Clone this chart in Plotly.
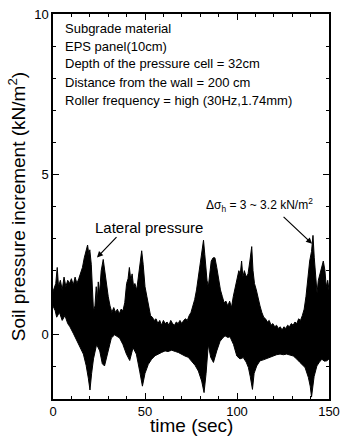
import plotly.graph_objects as go

# Upper envelope of the vibration record (time s, kN/m2)
t_up = [0, 1.5, 2.3, 3, 4, 5, 6, 7, 8, 9, 10, 11, 12, 13, 14, 15, 16, 17, 18, 18.8, 19.5, 20, 20.8,
        21.5, 22, 22.8, 23.5, 24, 24.6, 25.3, 26.2, 27.3, 28, 29, 30, 31, 32, 33, 34, 35, 36, 37, 38,
        39, 40, 40.8, 41.5, 42.3, 43, 43.8, 44.5, 45.5, 46.5, 47.5, 48.2, 49, 50, 51, 52, 53, 54, 55,
        56, 57, 58, 59, 60, 61, 62, 63, 64, 65, 66, 67, 68, 69, 70, 71, 72, 73, 74, 75, 76, 77, 78,
        79, 80, 81, 81.8, 82.5, 83, 83.7, 84.4, 85, 86, 87, 88, 89, 90, 91, 92, 93, 94, 95, 96, 97,
        98, 99, 100, 101, 101.8, 102.5, 103.2, 104, 105, 106, 107, 108, 108.7, 109.5, 110.5, 111.5,
        112.5, 113.5, 114.5, 115.5, 116.5, 117.5, 118.5, 119.5, 120.5, 121.5, 122.5, 123.5, 124.5,
        125.5, 126.5, 127.5, 128.5, 129.5, 130.5, 131.5, 132.5, 133.5, 134.5, 135.5, 136.5, 137.5,
        138.5, 139.5, 140.5, 141.3, 142, 142.8, 143.5, 144.2, 145, 146, 146.9, 147.8, 148.5, 149.3, 150]
v_up = [1.35, 1.6, 2.1, 1.5, 1.7, 1.4, 1.8, 1.5, 1.7, 1.6, 1.75, 1.55, 1.8, 1.6, 1.75, 1.9, 2.1, 2.4,
        2.6, 2.8, 2.5, 2.65, 2.2, 1.2, 0.75, 0.9, 1.5, 1.0, 1.65, 1.3, 2.0, 2.35, 2.0, 1.6, 1.2, 0.9,
        0.7, 0.85, 0.7, 0.8, 0.65, 0.8, 0.75, 1.0, 1.6, 1.75, 2.1, 1.7, 1.9, 1.5, 1.6, 1.4, 1.9, 2.4,
        2.62, 2.2, 1.5, 1.2, 0.9, 0.6, 0.55, 0.45, 0.5, 0.35, 0.45, 0.3, 0.45, 0.35, 0.4, 0.3, 0.45,
        0.35, 0.3, 0.4, 0.35, 0.45, 0.35, 0.45, 0.5, 0.45, 0.6, 0.7, 0.9, 1.1, 1.4, 1.8, 2.1, 2.5,
        2.95, 2.5, 2.1, 1.7, 1.5, 1.9, 2.3, 2.4, 2.4, 2.1, 1.7, 1.4, 1.2, 1.0, 1.05, 0.9, 1.05, 0.85,
        1.2, 1.5, 1.8, 2.0, 1.9, 2.3, 1.8, 2.0, 1.8, 1.9, 2.3, 2.75, 2.0, 1.6, 1.4, 1.1, 0.9, 0.7,
        0.55, 0.5, 0.4, 0.45, 0.3, 0.35, 0.25, 0.3, 0.2, 0.25, 0.15, 0.25, 0.2, 0.3, 0.25, 0.35, 0.3,
        0.4, 0.35, 0.5, 0.45, 0.6, 0.8, 1.2, 1.8, 2.3, 2.6, 3.1, 2.4, 1.9, 1.3, 1.7, 1.9, 2.1, 2.3,
        2.0, 1.5, 1.7, 1.4]

# Lower envelope of the vibration record
t_lo = [0, 1.2, 2, 3.5, 5, 6.5, 8, 9.2, 11, 12.9, 14.5, 16.5, 18, 19.2, 20.1, 21, 22, 22.8, 23.7,
        25.4, 26.8, 28, 29.9, 31.7, 33.5, 36.2, 38, 39.9, 41.7, 43.5, 45.3, 47.1, 48.6, 50, 51.8,
        53.6, 55.5, 57.2, 59, 60.9, 62.5, 64.5, 66.5, 68.1, 70, 71.7, 73.5, 75.4, 77.2, 79, 80.8,
        82.1, 83.2, 84.4, 85.7, 87.2, 89, 90.8, 92.2, 93.5, 95, 96.2, 98.1, 99.9, 101.6, 103.4,
        105, 106.2, 107.2, 108.4, 109.3, 110.7, 112.5, 114.3, 116.1, 118, 119.7, 121.5, 123.4,
        125.2, 127, 128.8, 130.6, 132.4, 134.2, 135.6, 137, 138.8, 139.8, 140.5, 141.9, 143.4,
        144.8, 146.1, 147.5, 148.8, 150]
v_lo = [0.9, 0.75, 0.55, 0.7, 0.45, 0.6, 0.35, 0.25, 0.05, -0.2, -0.35, -0.6, -0.95, -1.35, -1.72,
        -1.2, -0.75, -0.5, -0.3, -0.5, -0.9, -0.97, -0.5, -0.1, 0.0, -0.1, -0.3, -0.6, -0.8, -0.4,
        -0.6, -1.13, -1.6, -1.2, -0.92, -0.76, -0.65, -0.6, -0.55, -0.5, -0.52, -0.48, -0.52, -0.55,
        -0.6, -0.66, -0.7, -0.81, -0.95, -1.13, -1.44, -1.8, -1.2, -0.3, -0.7, -0.86, -0.5, -0.2,
        -0.1, -0.03, -0.08, -0.06, -0.3, -0.66, -0.75, -0.71, -0.85, -1.02, -1.3, -1.7, -1.2, -0.97,
        -0.81, -0.78, -0.76, -0.7, -0.66, -0.62, -0.6, -0.62, -0.6, -0.63, -0.66, -0.75, -0.86,
        -0.95, -1.02, -1.33, -1.6, -1.94, -1.3, -0.97, -0.85, -0.76, -0.82, -0.81, -0.75]

x_ticks = [0, 50, 100, 150]
y_ticks = [0, 5, 10]

info_lines = ["Subgrade material", "EPS panel(10cm)", "Depth of the pressure cell = 32cm",
              "Distance from the wall = 200 cm", "Roller frequency = high (30Hz,1.74mm)"]
info_y = [9.56, 9.0, 8.47, 7.88, 7.31]

FONT = "Liberation Sans, Arial, sans-serif"

fig = go.Figure()
fig.add_trace(go.Scatter(
    x=t_up + t_lo[::-1], y=v_up + v_lo[::-1],
    mode="lines", fill="toself", fillcolor="black",
    line=dict(color="black", width=1), hoverinfo="skip", showlegend=False))

annotations = []
for txt, yy in zip(info_lines, info_y):
    annotations.append(dict(x=5.3, y=yy, xref="x", yref="y", text=txt, showarrow=False,
                            xanchor="left", yanchor="middle", font=dict(size=13, color="black", family=FONT)))
annotations.append(dict(x=52.2, y=3.34, xref="x", yref="y", text="Lateral pressure", showarrow=False,
                        xanchor="center", yanchor="middle", font=dict(size=15, color="black", family=FONT)))
annotations.append(dict(x=23.9, y=2.41, ax=35.3, ay=3.09, xref="x", yref="y", axref="x", ayref="y",
                        text="", showarrow=True, arrowhead=2, arrowsize=1, arrowwidth=1.2, arrowcolor="black"))
annotations.append(dict(x=112, y=4.05, xref="x", yref="y",
                        text="Δσ<sub>h</sub> = 3 ~ 3.2 kN/m<sup>2</sup>", showarrow=False,
                        xanchor="center", yanchor="middle", font=dict(size=12, color="black", family=FONT)))
annotations.append(dict(x=140.8, y=2.84, ax=124.5, ay=3.72, xref="x", yref="y", axref="x", ayref="y",
                        text="", showarrow=True, arrowhead=2, arrowsize=1, arrowwidth=1.2, arrowcolor="black"))
# x-axis title placed as an annotation so it sits exactly where the reference has it
annotations.append(dict(x=0.5, y=-0.068, xref="paper", yref="paper", text="time (sec)", showarrow=False,
                        xanchor="center", yanchor="middle", font=dict(size=19, color="black", family=FONT)))

fig.update_layout(
    width=341, height=446,
    margin=dict(l=53, r=12, t=14, b=47, autoexpand=False),
    paper_bgcolor="white", plot_bgcolor="white",
    font=dict(family=FONT, color="black"),
    annotations=annotations,
    showlegend=False,
)
fig.update_xaxes(
    range=[0, 150], tickvals=x_ticks, ticktext=[str(v) for v in x_ticks],
    ticks="inside", ticklen=6, tickwidth=1, tickcolor="black",
    minor=dict(dtick=10, ticks="inside", ticklen=3, tickcolor="black"),
    showline=True, linecolor="black", linewidth=1.5, mirror="allticks",
    showgrid=False, zeroline=False, automargin=False, ticklabeloverflow="allow",
    tickfont=dict(size=13, family=FONT),
)
fig.update_yaxes(
    range=[-2, 10], tickvals=y_ticks, ticktext=[str(v) for v in y_ticks],
    ticks="inside", ticklen=6, tickwidth=1, tickcolor="black",
    minor=dict(dtick=1, ticks="inside", ticklen=3, tickcolor="black"),
    showline=True, linecolor="black", linewidth=1.5, mirror="allticks",
    showgrid=False, zeroline=False, automargin=False, ticklabeloverflow="allow",
    tickfont=dict(size=13, family=FONT),
    title=dict(text="Soil pressure increment (kN/m<sup>2</sup>)", font=dict(size=19, family=FONT), standoff=4),
)

# Remove the default 8px page margin so the 341x446 figure fills the window exactly.
fig.write_html("out.html", config={"displayModeBar": False},
               post_script="document.body.style.margin='0';document.documentElement.style.overflow='hidden';")
